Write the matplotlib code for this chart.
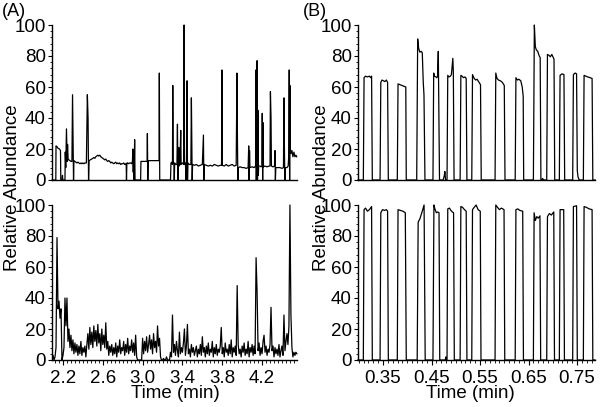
import numpy as np
import matplotlib
matplotlib.use('Agg')
from matplotlib import pyplot as plt
from matplotlib.ticker import MultipleLocator

plt.rcParams['font.family'] = ['Liberation Sans', 'DejaVu Sans']

# (A) top trace: (time, relative abundance)
a_top = [
    (2.090, 0), (2.128, 0), (2.130, 22), (2.140, 21.5), (2.150, 20.5), (2.165, 20), (2.175, 19),
    (2.178, 0), (2.190, 0), (2.195, 3), (2.198, 0), (2.220, 0), (2.223, 18), (2.228, 8),
    (2.235, 33), (2.242, 12), (2.246, 23), (2.252, 13), (2.26, 13), (2.27, 12.5), (2.28, 12),
    (2.29, 12), (2.296, 55), (2.302, 22), (2.306, 0), (2.310, 12.5), (2.32, 12), (2.33, 11.5),
    (2.34, 11), (2.35, 11.5), (2.36, 11), (2.37, 10.5), (2.38, 11), (2.39, 10.5), (2.40, 11),
    (2.41, 10.5), (2.42, 11), (2.435, 11), (2.445, 55), (2.452, 40), (2.457, 0), (2.462, 12.5),
    (2.475, 13), (2.49, 13.5), (2.50, 14), (2.51, 14.5), (2.52, 14), (2.53, 15), (2.54, 15.5),
    (2.55, 16), (2.56, 15.5), (2.57, 16), (2.58, 15), (2.59, 14.5), (2.60, 14), (2.61, 13.5),
    (2.62, 13), (2.63, 13.5), (2.64, 12.5), (2.65, 12), (2.66, 12.5), (2.67, 12), (2.68, 11),
    (2.69, 11.5), (2.70, 11), (2.71, 10.5), (2.72, 11), (2.73, 11.5), (2.74, 10.5), (2.75, 11),
    (2.76, 10.5), (2.77, 11), (2.78, 10), (2.79, 10.5), (2.80, 10.5), (2.81, 11), (2.82, 10),
    (2.83, 10.5), (2.835, 10.5), (2.838, 0), (2.842, 11), (2.85, 11), (2.86, 10.5), (2.87, 11),
    (2.88, 11), (2.89, 10.5), (2.898, 12), (2.902, 20), (2.906, 5), (2.910, 18), (2.914, 0),
    (2.920, 26), (2.924, 0), (2.980, 0), (2.983, 12), (2.99, 12), (3.00, 12), (3.01, 12),
    (3.02, 12), (3.03, 12), (3.045, 12), (3.048, 30), (3.052, 0), (3.056, 12.5), (3.07, 12.5),
    (3.09, 12.5), (3.11, 12.5), (3.13, 12.5), (3.15, 12.5), (3.165, 12.5), (3.168, 69),
    (3.172, 0), (3.280, 0), (3.285, 11), (3.295, 11.5), (3.300, 10), (3.303, 61), (3.307, 12),
    (3.315, 10), (3.318, 0), (3.322, 11), (3.335, 10), (3.345, 10), (3.350, 36), (3.354, 0),
    (3.358, 10), (3.363, 21), (3.367, 9), (3.375, 10), (3.383, 32), (3.387, 10), (3.400, 11),
    (3.412, 10), (3.417, 100), (3.421, 10), (3.430, 11), (3.437, 0), (3.441, 10), (3.447, 64),
    (3.451, 0), (3.455, 11), (3.470, 10), (3.485, 10), (3.490, 53), (3.494, 25), (3.498, 0),
    (3.502, 10), (3.52, 9.5), (3.54, 10), (3.56, 9), (3.58, 9.5), (3.60, 10), (3.611, 29),
    (3.615, 0), (3.619, 10), (3.64, 9.5), (3.66, 9), (3.68, 9.5), (3.70, 9), (3.72, 10),
    (3.74, 9.5), (3.76, 9), (3.78, 9.5), (3.793, 9.5), (3.797, 71), (3.801, 9.5), (3.82, 9),
    (3.84, 10), (3.86, 9), (3.88, 9.5), (3.90, 10), (3.92, 9), (3.94, 9.5), (3.948, 69),
    (3.953, 24), (3.957, 0), (3.962, 8), (3.98, 8.5), (4.00, 8), (4.02, 8), (4.04, 7.5),
    (4.06, 8), (4.066, 22), (4.070, 0), (4.074, 19), (4.078, 8), (4.10, 8.5), (4.12, 8),
    (4.135, 9), (4.138, 71), (4.142, 0), (4.146, 40), (4.150, 77), (4.154, 0), (4.158, 45),
    (4.162, 3), (4.166, 9), (4.18, 9), (4.19, 8.5), (4.198, 9), (4.202, 43), (4.206, 0),
    (4.210, 37), (4.214, 8.5), (4.23, 9), (4.25, 8.5), (4.27, 9), (4.280, 9), (4.284, 57),
    (4.290, 40), (4.294, 9), (4.31, 8.5), (4.325, 9), (4.330, 19), (4.334, 0), (4.338, 8),
    (4.36, 8), (4.38, 8), (4.40, 7.5), (4.415, 8), (4.420, 53), (4.425, 18), (4.429, 0),
    (4.433, 8), (4.45, 8), (4.462, 9), (4.468, 15), (4.473, 71), (4.477, 0), (4.480, 61),
    (4.484, 20), (4.490, 17), (4.50, 19), (4.51, 15), (4.52, 18), (4.53, 15), (4.54, 16),
    (4.548, 15),
]

# (A) bottom trace: one scan every 0.01 min from 2.10 to 4.55
a_bot_start = 2.10
a_bot_step = 0.01
a_bot = [
    3, 0, 2, 8, 79, 33, 38, 27, 33, 0,          # 2.10
    3, 8, 40, 22, 40, 12, 20, 8, 16, 6,         # 2.20
    13, 4, 11, 5, 10, 3, 9, 4, 12, 3,           # 2.30
    8, 5, 9, 2, 10, 17, 7, 21, 10, 18,          # 2.40
    8, 22, 12, 19, 9, 23, 11, 17, 6, 20,        # 2.50
    10, 16, 8, 24, 7, 12, 3, 9, 5, 10,          # 2.60
    3, 8, 4, 11, 2, 9, 5, 13, 4, 8,             # 2.70
    6, 12, 3, 10, 5, 14, 4, 9, 6, 13,           # 2.80
    5, 11, 3, 16, 2, 0, 0, 0, 0, 0,             # 2.90
    14, 4, 12, 6, 15, 5, 10, 16, 7, 13,         # 3.00
    4, 17, 8, 12, 5, 22, 9, 14, 2, 0,           # 3.10
    0, 1, 0, 0, 2, 0, 0, 0, 5, 2,               # 3.20
    29, 5, 10, 3, 12, 6, 2, 18, 4, 8,           # 3.30
    5, 11, 20, 3, 9, 23, 4, 7, 2, 10,           # 3.40
    5, 8, 3, 6, 9, 2, 7, 4, 10, 3,              # 3.50
    15, 5, 8, 2, 9, 4, 11, 3, 7, 5,             # 3.60
    12, 2, 8, 4, 10, 3, 7, 5, 9, 21,            # 3.70
    4, 8, 2, 11, 5, 7, 3, 10, 4, 13,            # 3.80
    2, 8, 5, 9, 3, 48, 10, 4, 7, 2,             # 3.90
    9, 5, 11, 3, 7, 4, 12, 2, 8, 5,             # 4.00
    10, 3, 9, 4, 66, 44, 6, 11, 3, 8,           # 4.10
    4, 12, 16, 5, 9, 3, 7, 5, 10, 34,           # 4.20
    6, 9, 2, 8, 4, 7, 3, 10, 2, 6,              # 4.30
    9, 3, 29, 6, 12, 17, 10, 22, 100, 29,       # 4.40
    8, 2, 5, 3, 5, 4,                           # 4.50
]

# (B) pulses: (time, relative abundance)
b_top = [
    (0.2985, 0), (0.3095, 0), (0.311, 66), (0.314, 67), (0.318, 66.5), (0.322, 67), (0.325, 66),
    (0.3265, 67), (0.328, 0), (0.344, 0), (0.3455, 63), (0.348, 64.5), (0.351, 64), (0.354, 63.5),
    (0.357, 64.5), (0.3595, 63), (0.361, 0), (0.3795, 0), (0.381, 62), (0.385, 61.5), (0.389, 61),
    (0.393, 60.5), (0.397, 60), (0.398, 0), (0.4195, 0), (0.4215, 91), (0.4235, 85), (0.426, 82.5),
    (0.429, 83), (0.431, 82), (0.433, 63), (0.4345, 55), (0.4365, 0), (0.453, 0), (0.4545, 69),
    (0.456, 67), (0.459, 66.5), (0.461, 66), (0.4625, 67), (0.464, 83), (0.4665, 0), (0.474, 0),
    (0.4765, 3), (0.4775, 5.5), (0.479, 0), (0.482, 0), (0.4835, 67.5), (0.486, 66.5), (0.489, 67),
    (0.491, 68), (0.494, 78.5), (0.495, 70), (0.4965, 0), (0.509, 0), (0.5105, 67.5), (0.513, 67),
    (0.516, 66), (0.519, 66.5), (0.5215, 65.5), (0.523, 0), (0.533, 0), (0.5345, 68), (0.538, 65.5),
    (0.541, 64.5), (0.544, 65), (0.548, 63), (0.551, 61.5), (0.5525, 0), (0.581, 0), (0.5825, 69),
    (0.585, 65.5), (0.588, 64.5), (0.592, 64), (0.596, 63), (0.600, 61), (0.6015, 0), (0.6225, 0),
    (0.624, 66), (0.627, 64.5), (0.630, 65), (0.634, 64), (0.637, 60), (0.639, 54), (0.640, 0),
    (0.660, 0), (0.662, 100), (0.664, 86), (0.666, 84), (0.669, 83), (0.672, 80), (0.674, 79),
    (0.6755, 0), (0.6775, 0), (0.679, 1), (0.681, 0), (0.6875, 0), (0.689, 81), (0.692, 80.5),
    (0.695, 79.5), (0.698, 81), (0.701, 79), (0.7025, 78), (0.704, 0), (0.7135, 0), (0.715, 67.5),
    (0.719, 68.5), (0.723, 68), (0.7245, 0), (0.741, 0), (0.7425, 68), (0.746, 69), (0.749, 68.5),
    (0.7505, 6), (0.752, 2), (0.7545, 0), (0.763, 0), (0.7645, 67.5), (0.768, 67), (0.772, 66.5),
    (0.777, 66), (0.781, 65.5), (0.7825, 0), (0.787, 0),
]

b_bot = [
    (0.2985, 0), (0.3095, 0), (0.311, 97), (0.314, 98), (0.318, 96), (0.322, 97), (0.3265, 99),
    (0.328, 0), (0.344, 0), (0.3455, 95), (0.349, 97), (0.353, 96.5), (0.357, 97), (0.3595, 96),
    (0.361, 0), (0.3795, 0), (0.381, 97), (0.386, 96.5), (0.391, 96), (0.396, 95), (0.398, 0),
    (0.4205, 0), (0.4225, 89), (0.426, 91), (0.430, 95), (0.4347, 100), (0.437, 0), (0.453, 0),
    (0.455, 100), (0.457, 97.5), (0.460, 95), (0.463, 95.5), (0.4655, 95), (0.467, 0), (0.4785, 0),
    (0.4795, 2), (0.4805, 0), (0.482, 0), (0.4835, 97.5), (0.487, 98), (0.490, 96.5), (0.493, 95.5),
    (0.4955, 95), (0.497, 0), (0.509, 0), (0.5105, 99), (0.514, 98.5), (0.518, 97), (0.5215, 96),
    (0.523, 0), (0.533, 0), (0.5345, 97), (0.538, 98.5), (0.542, 100), (0.546, 97), (0.5505, 96),
    (0.552, 0), (0.581, 0), (0.5825, 100), (0.586, 98.5), (0.590, 97), (0.594, 98), (0.5995, 97),
    (0.601, 0), (0.6225, 0), (0.624, 97), (0.628, 97.5), (0.632, 96.5), (0.638, 96), (0.6395, 0),
    (0.660, 0), (0.6615, 95), (0.664, 90), (0.667, 92.5), (0.670, 91.5), (0.6735, 93), (0.675, 0),
    (0.6875, 0), (0.689, 92.5), (0.693, 94.5), (0.697, 93.5), (0.702, 95.5), (0.7035, 0),
    (0.7135, 0), (0.715, 97), (0.7225, 97), (0.724, 0), (0.741, 0), (0.7425, 99), (0.749, 99.5),
    (0.7505, 0), (0.763, 0), (0.7645, 99), (0.769, 98.5), (0.775, 97.5), (0.781, 97), (0.7825, 0),
    (0.787, 0),
]

a_ticks = [2.2, 2.6, 3.0, 3.4, 3.8, 4.2]
a_labels = ['2.2', '2.6', '3.0', '3.4', '3.8', '4.2']
b_ticks = [0.35, 0.45, 0.55, 0.65, 0.75]
b_labels = ['0.35', '0.45', '0.55', '0.65', '0.75']

W, H = 601, 407
fig = plt.figure(figsize=(W / 100, H / 100), dpi=100)


def px_axes(x0, x1, y_top, y_bot):
    return fig.add_axes([x0 / W, 1 - y_bot / H, (x1 - x0) / W, (y_bot - y_top) / H])


def style(ax, xlim, ticks=None, labels=None, xminor=None):
    ax.set_xlim(*xlim)
    ax.set_ylim(0, 100)
    for s in ('top', 'right'):
        ax.spines[s].set_visible(False)
    for s in ('left', 'bottom'):
        ax.spines[s].set_linewidth(1.0)
    ax.yaxis.set_major_locator(MultipleLocator(20))
    ax.yaxis.set_minor_locator(MultipleLocator(4))
    ax.tick_params(axis='y', which='major', direction='out', length=3, width=0.8,
                   pad=1.5, labelsize=13.5)
    ax.tick_params(axis='y', which='minor', direction='out', length=1.5, width=0.6)
    if ticks is not None:
        ax.set_xticks(ticks)
        ax.set_xticklabels(labels)
        ax.xaxis.set_minor_locator(MultipleLocator(xminor))
        ax.tick_params(axis='x', which='major', direction='out', length=3.5, width=0.8,
                       pad=4, labelsize=13.5)
        ax.tick_params(axis='x', which='minor', direction='out', length=2, width=0.6)
    else:
        ax.tick_params(axis='x', which='both', bottom=False, labelbottom=False)


axA1 = px_axes(52, 297, 25, 180)
axA2 = px_axes(52, 297, 205, 360)
axB1 = px_axes(358, 595, 25, 180)
axB2 = px_axes(358, 595, 205, 360)

t, v = zip(*a_top)
axA1.plot(t, v, color='black', lw=0.9)
t_bot = np.round(a_bot_start + a_bot_step * np.arange(len(a_bot)), 2)
axA2.plot(t_bot, a_bot, color='black', lw=0.9)
t, v = zip(*b_top)
axB1.plot(t, v, color='black', lw=0.9)
t, v = zip(*b_bot)
axB2.plot(t, v, color='black', lw=0.9)

style(axA1, (2.0897, 4.551))
style(axA2, (2.0897, 4.551), a_ticks, a_labels, 0.04)
style(axB1, (0.2985, 0.787))
style(axB2, (0.2985, 0.787), b_ticks, b_labels, 0.01)

for ax in (axA1, axA2, axB1, axB2):
    for line in ax.lines:
        line.set_clip_on(False)

fig.text(2 / W, 1 - 11 / H, '(A)', fontsize=13, ha='left', va='center')
fig.text(303 / W, 1 - 11 / H, '(B)', fontsize=13, ha='left', va='center')
fig.text(13 / W, 1 - 188 / H, 'Relative Abundance', rotation=90, fontsize=13.5,
         ha='center', va='center')
fig.text(321 / W, 1 - 188 / H, 'Relative Abundance', rotation=90, fontsize=13.5,
         ha='center', va='center')
fig.text(175 / W, 1 - 394 / H, 'Time (min)', fontsize=13.5, ha='center', va='center')
fig.text(470 / W, 1 - 394 / H, 'Time (min)', fontsize=13.5, ha='center', va='center')

fig.savefig('out.png', dpi=100)
